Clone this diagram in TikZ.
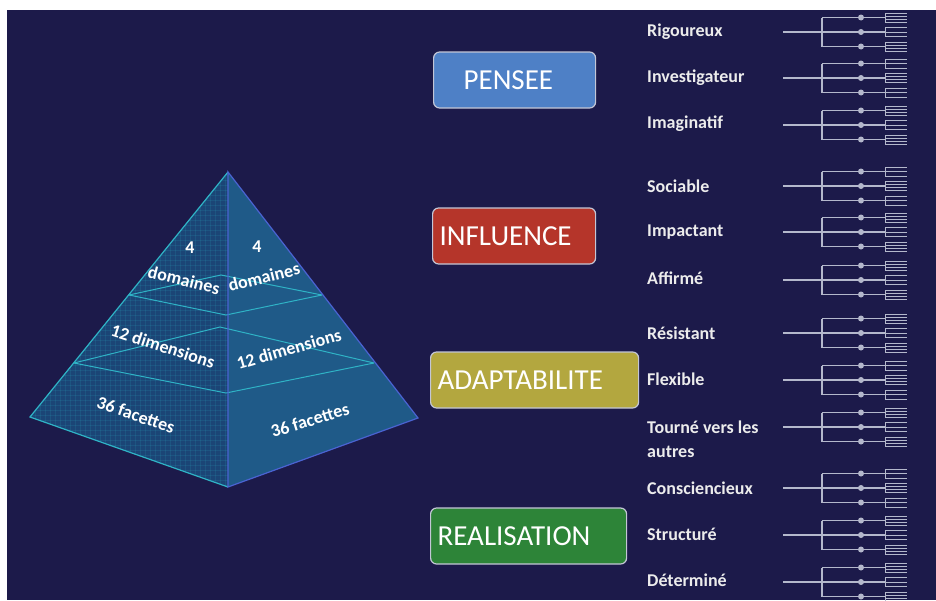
\documentclass[tikz,border=0pt]{standalone}
\usepackage{fontspec}
\setmainfont{Carlito}
\usepackage{tikz}
\usepackage{xcolor}
\usetikzlibrary{positioning, calc}

\definecolor{fond}{HTML}{1C1A4A}
\definecolor{bleupensee}{HTML}{4E80C6}
\definecolor{rougeinfl}{HTML}{B5352A}
\definecolor{oliveadapt}{HTML}{B3A73F}
\definecolor{vertreal}{HTML}{2D8438}
\definecolor{faceg}{HTML}{1B4576}
\definecolor{faced}{HTML}{1F5A88}
\definecolor{arete}{HTML}{2FB3C6}
\definecolor{areteb}{HTML}{4A63D2}
\definecolor{gris}{HTML}{B4B8CC}

\begin{document}
\begin{tikzpicture}[x=1pt, y=-1pt,
    boite/.style={rounded corners=6pt, draw=gris!80!white, line width=1.2pt, text=white,
      font=\fontsize{29}{30}\selectfont, minimum height=56pt, inner xsep=7pt, anchor=west, align=left},
    trait/.style={text=gray!15, font=\bfseries\fontsize{18}{24}\selectfont, anchor=west, align=left, inner sep=0pt},
    etage/.style={text=white, font=\bfseries\fontsize{18}{20}\selectfont, inner sep=0pt},
    branche/.style={draw=gris, line width=1.3pt}]
  \useasboundingbox (0,0) rectangle (936,600);
  \fill[white] (0,0) rectangle (936,600);
  \fill[fond] (7,10) rectangle (936,600);

  % pyramide
  \coordinate (sommet) at (228,172);
  \coordinate (gauche) at (30,417);
  \coordinate (avant) at (228,487);
  \coordinate (droite) at (418,418);
  \coordinate (g1) at (129,295);
  \coordinate (a1) at (226,315);
  \coordinate (d1) at (322,295);
  \coordinate (f1) at (221,275);
  \coordinate (g2) at (74,363);
  \coordinate (a2) at (226,393);
  \coordinate (d2) at (374,363);
  \coordinate (f2) at (220,327);

  \fill[faced] (sommet) -- (avant) -- (droite) -- cycle;
  \fill[faceg] (sommet) -- (gauche) -- (avant) -- cycle;
  \begin{scope}
    \clip (sommet) -- (gauche) -- (avant) -- cycle;
    \foreach \i in {0,5,...,460} {
      \draw[arete, opacity=0.14, line width=0.4pt] (20+\i,160) -- (20+\i,500);
    }
    \foreach \j in {160,165,...,500} {
      \draw[arete, opacity=0.14, line width=0.4pt] (20,\j) -- (440,\j);
    }
  \end{scope}

  \draw[arete, line width=1pt] (g1) -- (f1) -- (d1);
  \draw[arete, line width=1pt] (g2) -- (f2) -- (d2);
  \draw[arete, line width=1pt] (g1) -- (a1) -- (d1);
  \draw[arete, line width=1pt] (g2) -- (a2) -- (d2);
  \draw[arete, line width=1.2pt] (sommet) -- (gauche) -- (avant);
  \draw[areteb, line width=1.2pt] (sommet) -- (droite) -- (avant) -- cycle;

  \node[etage] (n4g) at (190,248) {4};
  \node[etage, rotate=-14] (domg) at (184,280) {domaines};
  \node[etage] (n4d) at (257,247) {4};
  \node[etage, rotate=14] (domd) at (264,277) {domaines};
  \node[etage, rotate=-18] (dimg) at (163,346) {12 dimensions};
  \node[etage, rotate=16] (dimd) at (289,349) {12 dimensions};
  \node[etage, rotate=-19] (facg) at (136,415) {36 facettes};
  \node[etage, rotate=17] (facd) at (310,420) {36 facettes};

  % domaines
  \node[boite, fill=bleupensee, text width=148pt] (pensee) at (433,80) {\hspace*{23pt}PENSEE};
  \node[boite, fill=rougeinfl, text width=149pt] (influence) at (432,236) {INFLUENCE};
  \node[boite, fill=oliveadapt, text width=194pt] (adaptabilite) at (430,380) {ADAPTABILITE};
  \node[boite, fill=vertreal, text width=182pt] (realisation) at (430,536) {REALISATION};

  % dimensions
  \node[trait] (rigoureux) at (647,32) {Rigoureux};
  \node[trait] (investigateur) at (647,78) {Investigateur};
  \node[trait] (imaginatif) at (647,124) {Imaginatif};
  \node[trait] (sociable) at (647,186) {Sociable};
  \node[trait] (impactant) at (647,232) {Impactant};
  \node[trait] (affirme) at (647,278) {Affirmé};
  \node[trait] (resistant) at (647,333) {Résistant};
  \node[trait] (flexible) at (647,379) {Flexible};
  \node[trait] (tourne) at (647,439) {Tourné vers les\\autres};
  \node[trait] (consciencieux) at (647,488) {Consciencieux};
  \node[trait] (structure) at (647,534) {Structuré};
  \node[trait] (determine) at (647,580) {Déterminé};

  % facettes
  \foreach \yc/\m in {32/1, 78/2, 125/3, 186/2, 232/1, 280/3, 333/1, 380/2, 427/3, 488/2, 535/1, 582/3} {
    \draw[branche] (783,\yc) -- (822,\yc);
    \draw[branche] (822,\yc-14.5) -- (822,\yc+14.5);
    \foreach \d [count=\k] in {-14.5,0,14.5} {
      \draw[branche] (822,\yc+\d) -- (885,\yc+\d);
      \fill[gris] (861,\yc+\d) circle (3pt);
      \draw[branche, line width=1pt] (885,\yc+\d-4.5) -- (885,\yc+\d+4.5);
      \pgfmathtruncatemacro{\plein}{mod(\k+\m,2)}
      \ifnum\plein=0
        \foreach \t in {-4.5,-1.5,1.5,4.5} {
          \draw[branche, line width=1pt] (885,\yc+\d+\t) -- (907,\yc+\d+\t);
        }
      \else
        \foreach \t in {-4.5,0,4.5} {
          \draw[branche, line width=1pt] (885,\yc+\d+\t) -- (907,\yc+\d+\t);
        }
      \fi
    }
  }
\end{tikzpicture}
\end{document}
